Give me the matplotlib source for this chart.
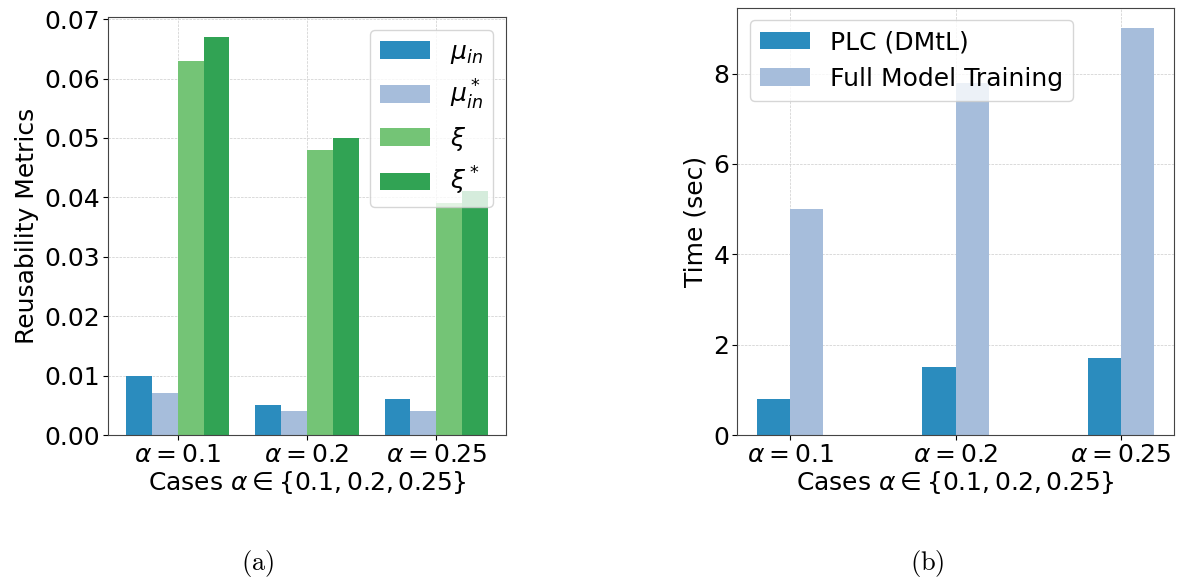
import matplotlib
matplotlib.use("Agg")
import matplotlib.pyplot as plt
import numpy as np

cases = [r"$\alpha = 0.1$", r"$\alpha = 0.2$", r"$\alpha = 0.25$"]
mu_in = [0.010, 0.005, 0.006]
mu_in_star = [0.007, 0.004, 0.004]
xi = [0.063, 0.048, 0.039]
xi_star = [0.067, 0.050, 0.041]
metric_labels = [r"$\mu_{in}$", r"$\mu^*_{in}$", r"$\xi$", r"$\xi^*$"]

plc_time = [0.8, 1.5, 1.7]
full_time = [5.0, 7.8, 9.0]
time_labels = ["PLC (DMtL)", "Full Model Training"]

c_blue = "#2b8cbe"
c_lblue = "#a6bddb"
c_lgreen = "#74c476"
c_green = "#31a354"

FS = 18
fig = plt.figure(figsize=(11.83, 5.79), dpi=100)
ax1 = fig.add_axes([0.0913, 0.2487, 0.3364, 0.7219])
ax2 = fig.add_axes([0.623, 0.2487, 0.3694, 0.7375])

x = np.arange(len(cases))
w = 0.2
series = [mu_in, mu_in_star, xi, xi_star]
cols = [c_blue, c_lblue, c_lgreen, c_green]
for i, (s, c, lab) in enumerate(zip(series, cols, metric_labels)):
    ax1.bar(x + (i - 1.5) * w, s, w, color=c, label=lab)
ax1.set_xticks(x)
ax1.set_xticklabels(cases)
ax1.set_ylabel("Reusability Metrics", fontsize=FS)
ax1.set_xlabel(r"Cases $\alpha \in \{0.1, 0.2, 0.25\}$", fontsize=FS, labelpad=2)
ax1.yaxis.set_major_formatter(matplotlib.ticker.FormatStrFormatter("%.2f"))
ax1.legend(loc="upper right", fontsize=FS)

ax2.bar(x - w / 2, plc_time, w, color=c_blue, label=time_labels[0])
ax2.bar(x + w / 2, full_time, w, color=c_lblue, label=time_labels[1])
ax2.set_xticks(x)
ax2.set_xticklabels(cases)
ax2.set_ylabel("Time (sec)", fontsize=FS)
ax2.set_xlabel(r"Cases $\alpha \in \{0.1, 0.2, 0.25\}$", fontsize=FS, labelpad=2)
ax2.legend(loc="upper left", fontsize=FS)

for ax in (ax1, ax2):
    ax.tick_params(labelsize=FS, pad=2)
    ax.set_axisbelow(True)
    ax.grid(True, linestyle="--", linewidth=0.5, color="#cccccc")
    for sp in ax.spines.values():
        sp.set_color("#444444")

fig.text(0.218, 0.027, r"$\mathrm{(a)}$", math_fontfamily="cm", fontsize=19, ha="center", va="center")
fig.text(0.784, 0.027, r"$\mathrm{(b)}$", math_fontfamily="cm", fontsize=19, ha="center", va="center")

fig.savefig("out.png", dpi=100)
